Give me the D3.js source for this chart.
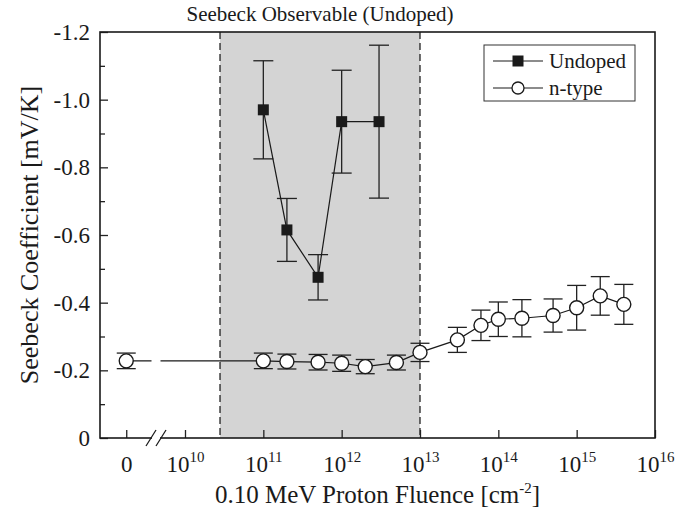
<!DOCTYPE html>
<html>
<head>
<meta charset="utf-8">
<script src="https://cdn.jsdelivr.net/npm/d3@7"></script>
<style>
  body { margin: 0; background: #fff; }
  svg text { font-family: "Liberation Serif", "Times New Roman", serif; fill: #1a1a1a; }
</style>
</head>
<body>
<svg id="chart" width="695" height="513"></svg>
<script>
// fluence values (cm^-2); 0 is shown left of the axis break
const nFluence = [0, 1e11, 2e11, 5e11, 1e12, 2e12, 5e12, 1e13, 3e13, 6e13, 1e14, 2e14, 5e14, 1e15, 2e15, 4e15];
const nSeebeck = [-0.228, -0.228, -0.226, -0.224, -0.221, -0.211, -0.223, -0.253, -0.290, -0.333, -0.351, -0.354, -0.362, -0.385, -0.420, -0.395];
const nErr     = [0.023, 0.023, 0.022, 0.023, 0.024, 0.021, 0.022, 0.027, 0.037, 0.045, 0.051, 0.055, 0.049, 0.066, 0.057, 0.059];

const uFluence = [1e11, 2e11, 5e11, 1e12, 3e12];
const uSeebeck = [-0.970, -0.615, -0.475, -0.935, -0.935];
const uErr     = [0.145, 0.093, 0.067, 0.152, 0.226];

const shadeRange = [2.8e10, 1e13];
const xTickExps = [10, 11, 12, 13, 14, 15, 16];
const yTicks = [0, -0.2, -0.4, -0.6, -0.8, -1.0, -1.2];
const yMinor = [-0.1, -0.3, -0.5, -0.7, -0.9, -1.1];

const margin = {top: 32, right: 40, bottom: 75, left: 100};
const width = 695 - margin.left - margin.right;
const height = 513 - margin.top - margin.bottom;

// the "0" fluence sits on a broken axis, placed at this pseudo-position
const ZERO_AT = Math.pow(10, 9.25);
const BREAK_AT = Math.pow(10, 9.63);

const x = d3.scaleLog().domain([Math.pow(10, 8.915), 1e16]).range([0, width]);
const y = d3.scaleLinear().domain([0, -1.2]).range([height, 0]);
const xPos = f => f === 0 ? x(ZERO_AT) : x(f);

const svg = d3.select("#chart");
const g = svg.append("g").attr("transform", `translate(${margin.left},${margin.top})`);

// shaded region
g.append("rect")
  .attr("x", x(shadeRange[0]))
  .attr("y", 0)
  .attr("width", x(shadeRange[1]) - x(shadeRange[0]))
  .attr("height", height)
  .attr("fill", "#d4d4d4");

shadeRange.forEach(v => {
  g.append("line")
    .attr("x1", x(v)).attr("x2", x(v))
    .attr("y1", 0).attr("y2", height)
    .attr("stroke", "#222").attr("stroke-width", 1.3)
    .attr("stroke-dasharray", "7,4");
});

svg.append("text")
  .attr("x", margin.left + (x(shadeRange[0]) + x(shadeRange[1])) / 2)
  .attr("y", 21)
  .attr("text-anchor", "middle")
  .attr("font-size", 21)
  .text("Seebeck Observable (Undoped)");

// y axis
const yAxis = d3.axisLeft(y).tickValues(yTicks).tickSize(-8).tickPadding(10)
  .tickFormat(d => d === 0 ? "0" : d.toFixed(1));
const ya = g.append("g").call(yAxis);
ya.select(".domain").remove();
ya.selectAll(".tick line").attr("stroke", "#222").attr("stroke-width", 1.3);
ya.selectAll(".tick text").attr("font-size", 23).attr("font-family", "Liberation Serif").attr("fill", "#1a1a1a");

const yaMinor = g.append("g").call(d3.axisLeft(y).tickValues(yMinor).tickSize(-5).tickFormat(""));
yaMinor.select(".domain").remove();
yaMinor.selectAll(".tick line").attr("stroke", "#222").attr("stroke-width", 1.3);

// x axis
const xTickVals = [ZERO_AT].concat(xTickExps.map(e => Math.pow(10, e)));
const xa = g.append("g").attr("transform", `translate(0,${height})`)
  .call(d3.axisBottom(x).tickValues(xTickVals).tickSize(-8).tickFormat(""));
xa.select(".domain").remove();
xa.selectAll(".tick line").attr("stroke", "#222").attr("stroke-width", 1.3);
xa.selectAll(".tick").each(function(d, i) {
  const t = d3.select(this).append("text")
    .attr("y", 34)
    .attr("text-anchor", "middle")
    .attr("font-size", 23);
  if (i === 0) {
    t.text("0");
  } else {
    t.append("tspan").text("10");
    t.append("tspan").attr("dy", -10).attr("font-size", 15).text(xTickExps[i - 1]);
  }
});

// frame
g.append("rect")
  .attr("width", width).attr("height", height)
  .attr("fill", "none").attr("stroke", "#1a1a1a").attr("stroke-width", 1.6);

// axis break
const bx = x(BREAK_AT);
g.append("rect").attr("x", bx - 4).attr("y", height - 3).attr("width", 8).attr("height", 6).attr("fill", "#fff");
[-5, 5].forEach(o => {
  g.append("line")
    .attr("x1", bx + o - 5).attr("y1", height + 8)
    .attr("x2", bx + o + 5).attr("y2", height - 8)
    .attr("stroke", "#1a1a1a").attr("stroke-width", 1.3);
});

// data
const nData = nFluence.map((f, i) => ({f: f, v: nSeebeck[i], e: nErr[i]}));
const uData = uFluence.map((f, i) => ({f: f, v: uSeebeck[i], e: uErr[i]}));

function errorBars(data, cap) {
  const eb = g.append("g").attr("stroke", "#222").attr("stroke-width", 1.3);
  data.forEach(d => {
    const cx = xPos(d.f);
    eb.append("line").attr("x1", cx).attr("x2", cx).attr("y1", y(d.v - d.e)).attr("y2", y(d.v + d.e));
    eb.append("line").attr("x1", cx - cap).attr("x2", cx + cap).attr("y1", y(d.v - d.e)).attr("y2", y(d.v - d.e));
    eb.append("line").attr("x1", cx - cap).attr("x2", cx + cap).attr("y1", y(d.v + d.e)).attr("y2", y(d.v + d.e));
  });
}

const line = d3.line().x(d => xPos(d.f)).y(d => y(d.v));

errorBars(nData, 9.5);
errorBars(uData, 10);

g.append("path").datum(nData).attr("d", line)
  .attr("fill", "none").attr("stroke", "#1a1a1a").attr("stroke-width", 1.2);
// gap of the n-type line at the axis break
g.append("rect")
  .attr("x", bx - 4.5).attr("y", y(nData[0].v) - 3)
  .attr("width", 9).attr("height", 6).attr("fill", "#fff");

g.append("path").datum(uData).attr("d", line)
  .attr("fill", "none").attr("stroke", "#1a1a1a").attr("stroke-width", 1.2);

g.selectAll("circle.n").data(nData).enter().append("circle")
  .attr("cx", d => xPos(d.f)).attr("cy", d => y(d.v)).attr("r", 7)
  .attr("fill", "#fff").attr("stroke", "#1a1a1a").attr("stroke-width", 1.4);

g.selectAll("rect.u").data(uData).enter().append("rect")
  .attr("x", d => xPos(d.f) - 5.5).attr("y", d => y(d.v) - 5.5)
  .attr("width", 11).attr("height", 11).attr("fill", "#1a1a1a");

// legend
const lg = svg.append("g").attr("transform", "translate(484,45)");
lg.append("rect").attr("width", 151).attr("height", 56)
  .attr("fill", "#fff").attr("stroke", "#333").attr("stroke-width", 1);
const legendItems = [{label: "Undoped", type: "square"}, {label: "n-type", type: "circle"}];
legendItems.forEach((it, i) => {
  const cy = 16 + i * 27;
  lg.append("line").attr("x1", 9).attr("x2", 59).attr("y1", cy).attr("y2", cy)
    .attr("stroke", "#1a1a1a").attr("stroke-width", 1.2);
  if (it.type === "square") {
    lg.append("rect").attr("x", 34 - 5.5).attr("y", cy - 5.5).attr("width", 11).attr("height", 11).attr("fill", "#1a1a1a");
  } else {
    lg.append("circle").attr("cx", 34).attr("cy", cy).attr("r", 6)
      .attr("fill", "#fff").attr("stroke", "#1a1a1a").attr("stroke-width", 1.3);
  }
  lg.append("text").attr("x", 65).attr("y", cy + 7).attr("font-size", 21).text(it.label);
});

// axis titles
const xt = svg.append("text")
  .attr("x", margin.left + width / 2).attr("y", 503)
  .attr("text-anchor", "middle").attr("font-size", 25);
xt.append("tspan").text("0.10 MeV Proton Fluence [cm");
xt.append("tspan").attr("dy", -10).attr("font-size", 15).text("-2");
xt.append("tspan").attr("dy", 10).text("]");

svg.append("text")
  .attr("transform", `translate(38,${margin.top + height / 2}) rotate(-90)`)
  .attr("text-anchor", "middle").attr("font-size", 26)
  .text("Seebeck Coefficient [mV/K]");
</script>
</body>
</html>
